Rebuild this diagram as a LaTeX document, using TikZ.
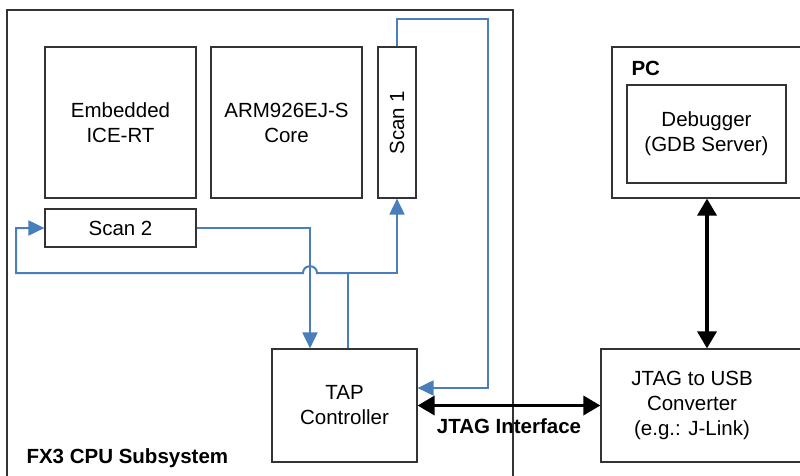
\documentclass[tikz,border=0pt]{standalone}
\usepackage{fontspec}
\setmainfont{Liberation Sans}
\usetikzlibrary{arrows.meta,positioning}
\definecolor{sigblue}{RGB}{74,126,187}
\tikzset{
  blk/.style={draw=black!80, line width=1.2pt, inner sep=0pt, align=center},
  lbl/.style={font=\fontsize{20.5}{25}\selectfont\bfseries},
  sig/.style={draw=sigblue, line width=2pt, -{Triangle[length=16pt,width=15pt]}},
  link/.style={line width=3.5pt, {Triangle[length=17pt,width=19pt]}-{Triangle[length=17pt,width=19pt]}}
}

\begin{document}
\begin{tikzpicture}[x=1pt, y=-1pt, font=\fontsize{20.5}{25}\selectfont]

\useasboundingbox (0,0) rectangle (800,475);
\clip (0,0) rectangle (800,475);

\draw[draw=black!80, line width=1.2pt] (7,10) rectangle (513,490);
    \node[lbl, anchor=base west] (0) at (23,463) {FX3 CPU Subsystem};

    \node[blk, minimum width=151pt, minimum height=151pt] (1) at (120.5,122.5) {Embedded\\ICE-RT};
    \node[blk, minimum width=151pt, minimum height=151pt] (2) at (286.5,122.5) {ARM926EJ-S\\Core};
    \node[blk, minimum width=38pt, minimum height=151pt] (3) at (397,122.5) {\rotatebox{90}{Scan 1}};
    \node[blk, minimum width=151pt, minimum height=38pt] (4) at (120.5,228) {Scan 2};
    \node[blk, minimum width=145pt, minimum height=113pt] (5) at (344.5,405.5) {TAP\\Controller};
    \node[blk, minimum width=212pt, minimum height=113pt] (6) at (707,405.5) {};
    \node[align=center] (6t) at (692,405.5) {JTAG to USB\\Converter\\(e.g.: J-Link)};
    \node[blk, minimum width=190pt, minimum height=151pt] (7) at (707,122.5) {};
    \node[lbl, anchor=base west] (7t) at (628,75) {PC};
    \node[blk, minimum width=159pt, minimum height=98pt] (8) at (706.5,134) {Debugger\\(GDB Server)};

\coordinate (j) at (348,273);
\draw[sig] (4.east) -| ([xshift=-34.5pt]5.north);
\draw[sig] ([xshift=3.5pt]5.north) -- (j) -| (3.south);
\draw[sig] (j) -- (317,273) .. controls (317,264) and (303,264) .. (303,273) -- (16,273) |- (4.west);
\draw[sig] (3.north) |- (488,19) |- ([yshift=17.5pt]5.east);

\draw[link] (5) -- (6) node[midway, below=8pt, lbl] (9) {JTAG Interface};
\draw[link] (7) -- (6);
\end{tikzpicture}
\end{document}
